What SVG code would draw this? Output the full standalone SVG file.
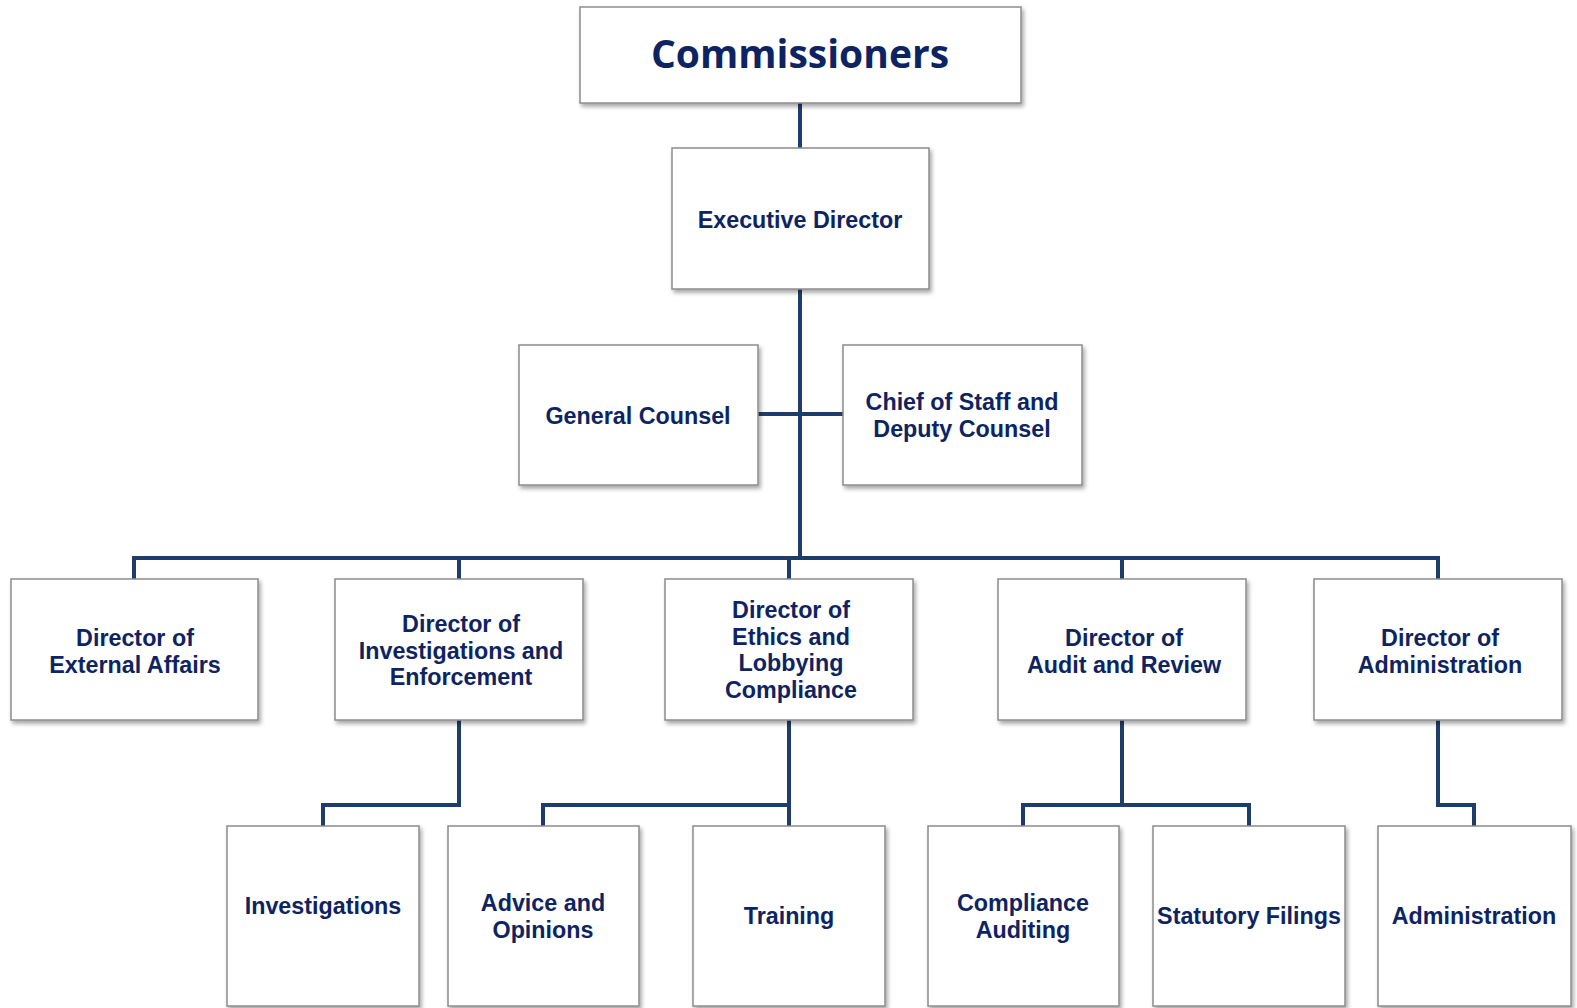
<svg xmlns="http://www.w3.org/2000/svg" width="1577" height="1008" viewBox="0 0 1577 1008">
<defs>
<filter id="sh" x="-10%" y="-10%" width="125%" height="130%">
<feDropShadow dx="2" dy="3" stdDeviation="2" flood-color="#000" flood-opacity="0.35"/>
</filter>
<style>
.box{fill:#fff;stroke:#8c8c8c;stroke-width:1.5;filter:url(#sh)}
.t{font-family:"Liberation Sans",Arial,sans-serif;font-weight:bold;font-size:23.3px;fill:#0e2462;text-anchor:middle}
.big{font-family:"Open Sans","Noto Sans",sans-serif;font-weight:bold;font-size:39px;fill:#0e2462;text-anchor:middle}
.c{fill:none;stroke:#1e3d6b;stroke-width:4;stroke-linejoin:miter;stroke-linecap:butt}
</style>
</defs>
<rect width="1577" height="1008" fill="#fff"/>
<g id="connectors">
<path class="c" d="M800 103V148"/>
<path class="c" d="M800 289V558"/>
<path class="c" d="M758 414H843"/>
<path class="c" d="M134 579V558H1438V579"/>
<path class="c" d="M459 558V579"/>
<path class="c" d="M789 558V579"/>
<path class="c" d="M1122 558V579"/>
<path class="c" d="M459 720V805H323V826"/>
<path class="c" d="M789 720V826"/>
<path class="c" d="M789 805H543V826"/>
<path class="c" d="M1122 720V805"/>
<path class="c" d="M1023 826V805H1249V826"/>
<path class="c" d="M1438 720V805H1474V826"/>
</g>
<g id="commissioners"><rect class="box" x="580" y="7" width="441" height="96"/><text class="big" x="800" y="68">Commissioners</text></g>
<g id="executive-director"><rect class="box" x="672" y="148" width="257" height="141"/><text class="t" x="800" y="228">Executive Director</text></g>
<g id="general-counsel"><rect class="box" x="519" y="345" width="239" height="140"/><text class="t" x="638" y="424">General Counsel</text></g>
<g id="chief-of-staff"><rect class="box" x="843" y="345" width="239" height="140"/><text class="t" x="962" y="410"><tspan x="962">Chief of Staff and</tspan><tspan x="962" dy="27">Deputy Counsel</tspan></text></g>
<g id="dir-external-affairs"><rect class="box" x="11" y="579" width="247" height="141"/><text class="t" x="135" y="646"><tspan x="135">Director of</tspan><tspan x="135" dy="26.7">External Affairs</tspan></text></g>
<g id="dir-investigations"><rect class="box" x="335" y="579" width="248" height="141"/><text class="t" x="461" y="632"><tspan x="461">Director of</tspan><tspan x="461" dy="26.7">Investigations and</tspan><tspan x="461" dy="26.7">Enforcement</tspan></text></g>
<g id="dir-ethics"><rect class="box" x="665" y="579" width="248" height="141"/><text class="t" x="791" y="618"><tspan x="791">Director of</tspan><tspan x="791" dy="26.7">Ethics and</tspan><tspan x="791" dy="26.7">Lobbying</tspan><tspan x="791" dy="26.7">Compliance</tspan></text></g>
<g id="dir-audit"><rect class="box" x="998" y="579" width="248" height="141"/><text class="t" x="1124" y="646"><tspan x="1124">Director of</tspan><tspan x="1124" dy="26.7">Audit and Review</tspan></text></g>
<g id="dir-administration"><rect class="box" x="1314" y="579" width="248" height="141"/><text class="t" x="1440" y="646"><tspan x="1440">Director of</tspan><tspan x="1440" dy="26.7">Administration</tspan></text></g>
<g id="investigations"><rect class="box" x="227" y="826" width="192" height="180"/><text class="t" x="323" y="914">Investigations</text></g>
<g id="advice-opinions"><rect class="box" x="448" y="826" width="191" height="180"/><text class="t" x="543" y="911"><tspan x="543">Advice and</tspan><tspan x="543" dy="26.7">Opinions</tspan></text></g>
<g id="training"><rect class="box" x="693" y="826" width="192" height="180"/><text class="t" x="789" y="924">Training</text></g>
<g id="compliance-auditing"><rect class="box" x="928" y="826" width="191" height="180"/><text class="t" x="1023" y="911"><tspan x="1023">Compliance</tspan><tspan x="1023" dy="26.7">Auditing</tspan></text></g>
<g id="statutory-filings"><rect class="box" x="1153" y="826" width="192" height="180"/><text class="t" x="1249" y="924">Statutory Filings</text></g>
<g id="administration"><rect class="box" x="1378" y="826" width="193" height="180"/><text class="t" x="1474" y="924">Administration</text></g>
</svg>
